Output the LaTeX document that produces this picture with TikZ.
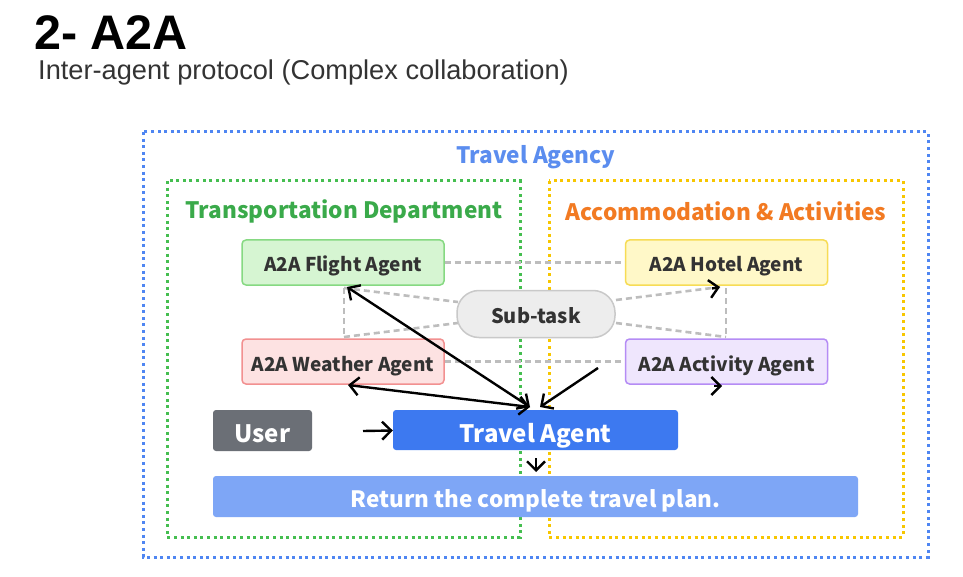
\documentclass[tikz,border=0pt]{standalone}
\usepackage{fontspec}
\setmainfont{Liberation Sans}
\newfontfamily\kr{Noto Sans CJK KR}
\usetikzlibrary{arrows.meta}
\definecolor{agblue}{HTML}{4F86F2}
\definecolor{agbluetxt}{HTML}{5B8DEF}
\definecolor{trgreen}{HTML}{45BE50}
\definecolor{trgreentxt}{HTML}{3AAA4A}
\definecolor{acyellow}{HTML}{F7C600}
\definecolor{acorange}{HTML}{F27A22}
\definecolor{flfill}{HTML}{D6F5D2}
\definecolor{fldraw}{HTML}{86D982}
\definecolor{hofill}{HTML}{FFF8C8}
\definecolor{hodraw}{HTML}{F7DC55}
\definecolor{wefill}{HTML}{FDE2E2}
\definecolor{wedraw}{HTML}{F29090}
\definecolor{acfill}{HTML}{EFE6FD}
\definecolor{acdraw}{HTML}{B58CF5}
\definecolor{subfill}{HTML}{EDEDED}
\definecolor{subdraw}{HTML}{C9C9C9}
\definecolor{userfill}{HTML}{6B6F76}
\definecolor{travfill}{HTML}{3D79F0}
\definecolor{retfill}{HTML}{7EA6F6}
\definecolor{dashgray}{HTML}{BDBDBD}
\definecolor{txtdark}{HTML}{333333}
\begin{document}
\begin{tikzpicture}[x=1pt,y=-1pt,
  frame/.style={line width=3pt, dash pattern=on 3pt off 3.6pt},
  agentbox/.style={rectangle, rounded corners=4pt, line width=1.5pt, minimum width=202pt, minimum height=45pt, text=txtdark, text height=19pt, text depth=0pt, font=\kr\bfseries\fontsize{19}{19}\selectfont},
  graydash/.style={draw=dashgray, line width=2.6pt, dash pattern=on 6pt off 4pt},
  tipb/.style={line width=2.4pt, -{Straight Barb[length=9pt,width=18pt,line width=2.4pt]}},
  dbl/.style={line width=2.4pt, {Straight Barb[length=9pt,width=18pt,line width=2.4pt]}-{Straight Barb[length=9pt,width=18pt,line width=2.4pt]}},
  grouplbl/.style={font=\kr\bfseries\fontsize{22.6}{22.6}\selectfont}
]
\useasboundingbox (0,0) rectangle (963,577);
\fill[white] (0,0) rectangle (963,577);

% title
\node[anchor=base west, inner sep=0, font=\bfseries\fontsize{48.5}{48.5}\selectfont] (title) at (34,50) {2- A2A};
\node[anchor=base west, inner sep=0, text=txtdark, font=\fontsize{27.2}{27.2}\selectfont] (subtitle) at (38,80) {Inter-agent protocol (Complex collaboration)};

% frames
\draw[frame, draw=agblue] (143,132) rectangle (928,557);
\draw[frame, draw=trgreen] (167,181) rectangle (520,537);
\draw[frame, draw=acyellow] (549,181) rectangle (903,537);

\node[grouplbl, text=agbluetxt] (agencylbl) at (536,157) {Travel Agency};
\node[grouplbl, text=trgreentxt] (translbl) at (344,211) {Transportation Department};
\node[grouplbl, text=acorange] (acclbl) at (726,211) {Accommodation \& Activities};

% agent boxes
\node[agentbox, fill=flfill, draw=fldraw] (flight) at (343,262.5) {A2A Flight Agent};
\node[agentbox, fill=hofill, draw=hodraw] (hotel) at (726.5,262.5) {A2A Hotel Agent};
\node[agentbox, fill=wefill, draw=wedraw] (weather) at (343,361.5) {A2A Weather Agent};
\node[agentbox, fill=acfill, draw=acdraw] (activity) at (726.5,361.5) {A2A Activity Agent};

% coordinates for grey dashed links
\coordinate (fbl) at (344,288);
\coordinate (wtl) at (344,337);
\coordinate (hbr) at (726,288);
\coordinate (atr) at (726,337);

\draw[graydash] (flight.east) -- (hotel.west);
\draw[graydash] (weather.east) -- (activity.west);
\draw[graydash] (fbl) -- (wtl);
\draw[graydash] (hbr) -- (atr);
\draw[graydash] (fbl) -- (458,302);
\draw[graydash] (wtl) -- (458,323);
\draw[graydash] (616,300) -- (720,287);
\draw[graydash] (616,323) -- (atr);

% sub-task
\node[rectangle, rounded corners=22pt, fill=subfill, draw=subdraw, line width=1.5pt, minimum width=158pt, minimum height=47pt, text=txtdark, text height=18pt, text depth=0pt, font=\kr\bfseries\fontsize{20}{20}\selectfont] (subtask) at (536,314) {Sub-task};

% user, travel agent, return
\node[rectangle, rounded corners=3pt, fill=userfill, minimum width=99pt, minimum height=41pt, text=white, text height=24pt, text depth=0pt, font=\kr\bfseries\fontsize{24}{24}\selectfont] (user) at (262.5,430.5) {User};
\node[rectangle, rounded corners=3pt, fill=travfill, minimum width=285pt, minimum height=40pt, text=white, text height=24pt, text depth=0pt, font=\kr\bfseries\fontsize{24}{24}\selectfont] (travel) at (535.5,430) {Travel Agent};
\node[rectangle, rounded corners=3pt, fill=retfill, minimum width=645pt, minimum height=41pt, text=white, text height=22pt, text depth=0pt, font=\kr\bfseries\fontsize{22.5}{22.5}\selectfont] (ret) at (535.5,496.5) {Return the complete travel plan.};

% black arrows
\coordinate (tfl) at (347,287);
\coordinate (twe) at (348,385);
\coordinate (tta1) at (530,407);
\coordinate (tta2) at (540,407);
\coordinate (actfree) at (598,368);
\draw[dbl] (tfl) -- (tta1);
\draw[dbl] (twe) -- (tta1);
\draw[tipb] (actfree) -- (tta2);
\draw[tipb] (363,431) -- (user.east -| travel.west);
\draw[tipb] (536,458) -- (536,472);
% lone tips
\draw[tipb] (712,288.5) -- (720,287);
\draw[tipb] (714,386) -- (722,386);
\end{tikzpicture}
\end{document}
